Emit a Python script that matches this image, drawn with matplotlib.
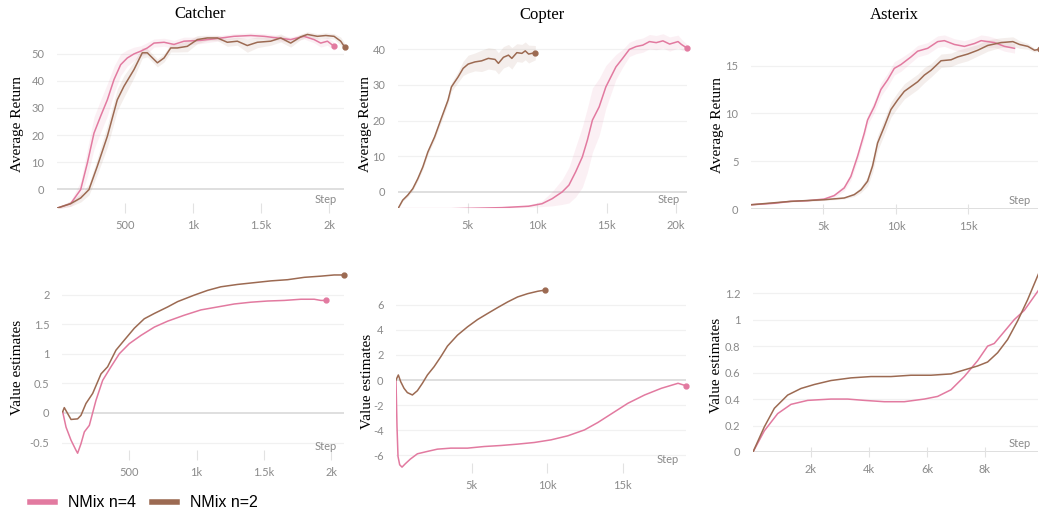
import matplotlib.pyplot as plt
import numpy as np
from matplotlib.ticker import FixedLocator

PINK = '#e27aa0'
BROWN = '#9c6a52'

# ---- Catcher, average return ----
catcher_ret_pink_x = [3, 100, 174, 223, 272, 321, 370, 419, 468, 517, 566, 615, 664, 713, 787, 860, 934,
                      1056, 1179, 1301, 1424, 1522, 1620, 1718, 1816, 1890, 1939, 1988, 2037]
catcher_ret_pink_y = [-7, -5.4, -0.2, 9.6, 20.7, 27, 33, 40.5, 46, 48.5, 50, 51, 52.2, 54, 54.3, 53.5, 54.7,
                      55, 55.7, 56.5, 56.8, 56.5, 55.9, 55.3, 56.5, 55.3, 54, 54.7, 52.8]
catcher_ret_pink_band = [0.3, 1, 3, 5, 6, 6, 6, 5, 4, 3, 2.5, 2, 2, 1.5, 1.5, 1.5, 1.5,
                         1.2, 1, 1, 1, 1, 1, 1, 1, 1.2, 1.5, 1.5, 1.5]
catcher_ret_brown_x = [3, 100, 174, 235, 296, 370, 443, 492, 566, 627, 664, 738, 787, 836, 885, 958, 1032,
                       1105, 1179, 1252, 1326, 1399, 1473, 1571, 1645, 1718, 1792, 1841, 1914, 1976, 2037,
                       2086, 2115]
catcher_ret_brown_y = [-7, -5.4, -3.3, -0.2, 8.4, 19.5, 33, 38, 44.2, 50.4, 50.4, 46.7, 48.5, 52.2, 52.2, 52.8,
                       55.3, 55.9, 55.9, 54.3, 54.7, 53.1, 54.3, 54.7, 55.9, 54, 56.3, 57.2, 56.5, 56.8, 56.5,
                       54.7, 52.5]
catcher_ret_brown_band = [0.3, 1, 1.5, 2, 3, 4, 4, 4, 3, 2, 1.5, 1.5, 1.5, 1.5, 1.5, 2, 1.5,
                          1, 1, 1.5, 1.5, 2.5, 2, 1.5, 1.5, 1.5, 1, 1, 1, 1, 1, 1.5, 1.5]

# ---- Copter, average return ----
copter_ret_brown_x = [0, 338, 700, 1063, 1425, 1787, 2150, 2633, 3116, 3599, 3841, 4324, 4686, 5048, 5531,
                      6014, 6498, 6981, 7222, 7585, 7947, 8188, 8551, 8913, 9155, 9396, 9879]
copter_ret_brown_y = [-4.7, -2.3, -0.9, 0.9, 3.7, 7, 11.2, 15.4, 20.6, 25.7, 29.4, 32.2, 34.6, 35.8, 36.4,
                      36.7, 37.4, 37.1, 36, 37.7, 38.3, 37.4, 39, 38.8, 39.5, 38.6, 39]
copter_ret_brown_band = [0, 0.3, 0.5, 0.5, 0.6, 0.7, 0.8, 0.8, 1, 1, 1.2, 1.5, 2, 2.5, 2.5,
                         3, 3, 3, 3, 3, 3, 3, 2.5, 2.5, 2.5, 2.5, 2]
copter_ret_pink_x = [0, 3841, 7464, 9396, 10362, 11087, 11812, 12295, 12778, 13261, 13623, 13986, 14469,
                     14952, 15676, 16159, 16642, 17126, 17609, 18092, 18575, 19058, 19541, 20145, 20386, 20821]
copter_ret_pink_y = [-4.7, -4.7, -4.4, -4.0, -3.3, -1.9, 0, 1.9, 5.6, 9.8, 14.5, 20.1, 23.8,
                     29.4, 35, 37.4, 39.9, 40.7, 41.1, 42.1, 41.8, 42.3, 41.4, 42.1, 41.3, 40.2]
copter_ret_pink_band = [0, 0, 0.1, 0.3, 0.8, 2, 3.5, 5, 7, 8.5, 9, 9, 8, 6, 3.5, 2.5, 2, 2, 2, 2, 2, 2,
                        2, 1.8, 1.5, 1]

# ---- Asterix, average return ----
asterix_ret_pink_x = [46, 1590, 2742, 3894, 5046, 5737, 6429, 6889, 7350, 7811, 8041, 8502, 8963, 9424, 9885,
                      10346, 11037, 11498, 12189, 12880, 13341, 14032, 14723, 15415, 15876, 16336, 16797,
                      17488, 18180]
asterix_ret_pink_y = [0.45, 0.6, 0.8, 0.87, 1.04, 1.4, 2.2, 3.4, 5.5, 7.9, 9.3, 10.7, 12.5, 13.5, 14.7,
                      15.1, 15.9, 16.5, 16.8, 17.5, 17.6, 17.2, 17.0, 17.3, 17.6, 17.5, 17.4, 17.0, 16.8]
asterix_ret_pink_band = [0.05, 0.05, 0.05, 0.08, 0.1, 0.2, 0.3, 0.4, 0.5, 0.5, 0.5, 0.6, 0.7, 0.7, 0.7,
                         0.7, 0.6, 0.6, 0.6, 0.6, 0.6, 0.6, 0.6, 0.6, 0.6, 0.6, 0.5, 0.5, 0.5]
asterix_ret_brown_x = [46, 2742, 5046, 6429, 7120, 7581, 8041, 8387, 8733, 9194, 9654, 10115, 10576, 11037,
                       11498, 11959, 12419, 13111, 13802, 14263, 14954, 15645, 16336, 17258, 18065, 18525,
                       19101, 19562, 19908]
asterix_ret_brown_y = [0.45, 0.8, 0.97, 1.15, 1.5, 2.0, 2.9, 4.5, 6.9, 8.6, 10.4, 11.4, 12.3, 12.8,
                       13.3, 14.0, 14.5, 15.5, 15.6, 15.9, 16.2, 16.6, 17.1, 17.4, 17.5, 17.2,
                       17.0, 16.6, 16.7]
asterix_ret_brown_band = [0.05, 0.05, 0.08, 0.1, 0.2, 0.3, 0.5, 0.7, 0.8, 0.8, 0.8, 0.8, 0.8, 0.8,
                          0.8, 0.8, 0.7, 0.7, 0.7, 0.7, 0.7, 0.6, 0.6, 0.5, 0.5, 0.4, 0.3, 0.2, 0.1]

# ---- Catcher, value estimates ----
catcher_val_pink_x = [5, 30, 67, 104, 116, 141, 166, 203, 252, 302, 364, 426, 500, 587, 686, 785, 908,
                      1032, 1156, 1280, 1403, 1527, 1651, 1775, 1874, 1923, 1960]
catcher_val_pink_y = [0.02, -0.24, -0.46, -0.63, -0.68, -0.52, -0.32, -0.21, 0.21, 0.55, 0.78, 1.0, 1.17,
                      1.31, 1.45, 1.55, 1.65, 1.74, 1.79, 1.84, 1.87, 1.89, 1.90, 1.92, 1.92, 1.90, 1.90]
catcher_val_brown_x = [5, 17, 42, 67, 116, 141, 178, 228, 290, 339, 401, 463, 537, 611, 686, 785, 859, 983,
                       1082, 1180, 1304, 1428, 1552, 1676, 1800, 1923, 2022, 2097]
catcher_val_brown_y = [0.02, 0.09, -0.01, -0.11, -0.1, -0.04, 0.16, 0.33, 0.66, 0.78, 1.06, 1.23, 1.43,
                       1.59, 1.68, 1.79, 1.88, 1.99, 2.07, 2.13, 2.17, 2.20, 2.23, 2.25, 2.29, 2.31,
                       2.33, 2.33]

# ---- Copter, value estimates ----
copter_val_brown_x = [0, 155, 310, 531, 752, 1084, 1416, 1748, 2080, 2522, 2965, 3407, 4071, 4735, 5398,
                      6062, 6726, 7389, 8053, 8717, 9381, 9889]
copter_val_brown_y = [0, 0.4, -0.13, -0.66, -1.0, -1.19, -0.85, -0.26, 0.4, 1.06, 1.85, 2.70, 3.57, 4.23,
                      4.81, 5.29, 5.76, 6.21, 6.61, 6.87, 7.06, 7.16]
copter_val_pink_x = [0, 66, 133, 243, 398, 619, 951, 1416, 2080, 2743, 3628, 4735, 5841, 6947, 8053, 9159,
                     10265, 11372, 12478, 13363, 14248, 15354, 16460, 17566, 18673, 19181]
copter_val_pink_y = [0, -3.7, -6.08, -6.74, -6.93, -6.66, -6.29, -5.87, -5.68, -5.50, -5.42, -5.42, -5.29,
                     -5.21, -5.10, -4.97, -4.76, -4.44, -3.97, -3.38, -2.70, -1.85, -1.19, -0.66, -0.26, -0.45]

# ---- Asterix, value estimates ----
asterix_val_brown_x = [0, 391, 736, 1195, 1655, 2115, 2690, 3379, 4069, 4759, 5448, 6138, 6828, 7287, 7747,
                       8092, 8437, 8782, 9126, 9471, 9874]
asterix_val_brown_y = [0, 0.19, 0.33, 0.43, 0.48, 0.51, 0.54, 0.56, 0.57, 0.57, 0.58, 0.58, 0.59, 0.62,
                       0.65, 0.68, 0.75, 0.85, 0.99, 1.15, 1.36]
asterix_val_pink_x = [0, 391, 851, 1310, 1885, 2690, 3264, 3839, 4529, 5218, 5908, 6368, 6828, 7287, 7747,
                      8092, 8322, 8667, 9011, 9356, 9874]
asterix_val_pink_y = [0, 0.16, 0.29, 0.36, 0.39, 0.40, 0.40, 0.39, 0.38, 0.38, 0.40, 0.42, 0.47, 0.57,
                      0.69, 0.80, 0.82, 0.91, 1.00, 1.07, 1.23]

titles = ['Catcher', 'Copter', 'Asterix']
labels = ['NMix n=4', 'NMix n=2']


def kfmt(v):
    if v < 1000:
        return str(int(v))
    s = '%g' % (v / 1000)
    return s + 'k'


def style(ax, xlim, ylim, xticks, yticks, ylabels):
    ax.set_xlim(*xlim)
    ax.set_ylim(*ylim)
    for s in ax.spines.values():
        s.set_visible(False)
    ax.xaxis.set_major_locator(FixedLocator(xticks))
    ax.set_xticklabels([kfmt(t) for t in xticks])
    ax.set_yticks(yticks)
    ax.set_yticklabels(ylabels)
    ax.tick_params(axis='y', length=0, pad=9, labelsize=8, labelcolor='#8a8a8a')
    ax.tick_params(axis='x', direction='inout', length=7, width=0.8, color='#e2e2e2',
                   pad=5, labelsize=8, labelcolor='#8a8a8a')
    for lab in ax.get_xticklabels() + ax.get_yticklabels():
        lab.set_fontfamily('Lato')
    for t in yticks:
        if t == 0:
            ax.axhline(0, color='#dcdcdc', lw=1.3, zorder=0)
        else:
            ax.axhline(t, color='#f1f1f1', lw=0.9, zorder=0)
    ax.annotate('Step', xy=(1, 0), xycoords='axes fraction', xytext=(-5, 2),
                textcoords='offset points', ha='right', va='bottom',
                fontsize=8, color='#8a8a8a', fontfamily='Lato')


def curve(ax, x, y, color, band=None, dot=True):
    x = np.array(x, float)
    y = np.array(y, float)
    if band is not None:
        b = np.array(band, float)
        ax.fill_between(x, y - b, y + b, color=color, alpha=0.11, lw=0, zorder=1)
    ax.plot(x, y, color=color, lw=1.1, zorder=3)
    if dot:
        ax.plot(x[-1:], y[-1:], 'o', color=color, ms=3.5, zorder=4, clip_on=False)


W, H = 1039, 514
fig = plt.figure(figsize=(W / 100, H / 100), dpi=100)


def add_axes(l, t, r, b):
    return fig.add_axes([l / W, 1 - b / H, (r - l) / W, (b - t) / H])


def place_ylabel(ax, text, l, r, px):
    # label anchor sits on the right edge of the rotated text, so shift by half its height
    ax.set_ylabel(text, fontsize=11, fontfamily='Liberation Serif')
    ax.yaxis.set_label_coords((px + 7 - l) / (r - l), 0.48)


ax1 = add_axes(57, 32, 344, 208)
style(ax1, (0, 2110), (-7.0, 58.1), [500, 1000, 1500, 2000], [0, 10, 20, 30, 40, 50],
      ['0', '10', '20', '30', '40', '50'])
curve(ax1, catcher_ret_pink_x, catcher_ret_pink_y, PINK, catcher_ret_pink_band)
curve(ax1, catcher_ret_brown_x, catcher_ret_brown_y, BROWN, catcher_ret_brown_band)
place_ylabel(ax1, 'Average Return', 57, 344, 17)

ax2 = add_axes(398, 33, 687, 208)
style(ax2, (0, 20790), (-4.5, 44.5), [5000, 10000, 15000, 20000], [0, 10, 20, 30, 40],
      ['0', '10', '20', '30', '40'])
curve(ax2, copter_ret_pink_x, copter_ret_pink_y, PINK, copter_ret_pink_band)
curve(ax2, copter_ret_brown_x, copter_ret_brown_y, BROWN, copter_ret_brown_band)
place_ylabel(ax2, 'Average Return', 398, 687, 365)

ax3 = add_axes(751, 33, 1038, 209)
style(ax3, (0, 19800), (0, 18.4), [5000, 10000, 15000], [0, 5, 10, 15], ['0', '5', '10', '15'])
curve(ax3, asterix_ret_pink_x, asterix_ret_pink_y, PINK, asterix_ret_pink_band, dot=False)
curve(ax3, asterix_ret_brown_x, asterix_ret_brown_y, BROWN, asterix_ret_brown_band)
place_ylabel(ax3, 'Average Return', 751, 1038, 717)

ax4 = add_axes(62, 272, 344, 455)
style(ax4, (0, 2095), (-0.71, 2.38), [500, 1000, 1500, 2000], [-0.5, 0, 0.5, 1, 1.5, 2],
      ['-0.5', '0', '0.5', '1', '1.5', '2'])
curve(ax4, catcher_val_pink_x, catcher_val_pink_y, PINK)
curve(ax4, catcher_val_brown_x, catcher_val_brown_y, BROWN)
place_ylabel(ax4, 'Value estimates', 62, 344, 17)

ax5 = add_axes(396, 287, 686, 468)
style(ax5, (0, 19200), (-7.0, 7.4), [5000, 10000, 15000], [-6, -4, -2, 0, 2, 4, 6],
      ['-6', '-4', '-2', '0', '2', '4', '6'])
curve(ax5, copter_val_pink_x, copter_val_pink_y, PINK)
curve(ax5, copter_val_brown_x, copter_val_brown_y, BROWN)
place_ylabel(ax5, 'Value estimates', 396, 686, 367)

ax6 = add_axes(753, 272, 1038, 452)
style(ax6, (0, 9830), (0, 1.36), [2000, 4000, 6000, 8000], [0, 0.2, 0.4, 0.6, 0.8, 1, 1.2],
      ['0', '0.2', '0.4', '0.6', '0.8', '1', '1.2'])
curve(ax6, asterix_val_pink_x, asterix_val_pink_y, PINK, dot=False)
curve(ax6, asterix_val_brown_x, asterix_val_brown_y, BROWN, dot=False)
place_ylabel(ax6, 'Value estimates', 753, 1038, 716)

for ax, t in zip([ax1, ax2, ax3], titles):
    ax.set_title(t, fontsize=12, fontfamily='Liberation Serif', pad=10)

handles = [plt.Line2D([], [], color=PINK, lw=4), plt.Line2D([], [], color=BROWN, lw=4)]
fig.legend(handles, labels, loc='lower left', bbox_to_anchor=(20 / W, -6 / H), ncol=2, frameon=False,
           prop={'family': 'Liberation Sans', 'size': 11.5}, handlelength=1.6,
           handletextpad=0.8, columnspacing=1.0, borderaxespad=0.2)

fig.savefig('out.png', dpi=100)
